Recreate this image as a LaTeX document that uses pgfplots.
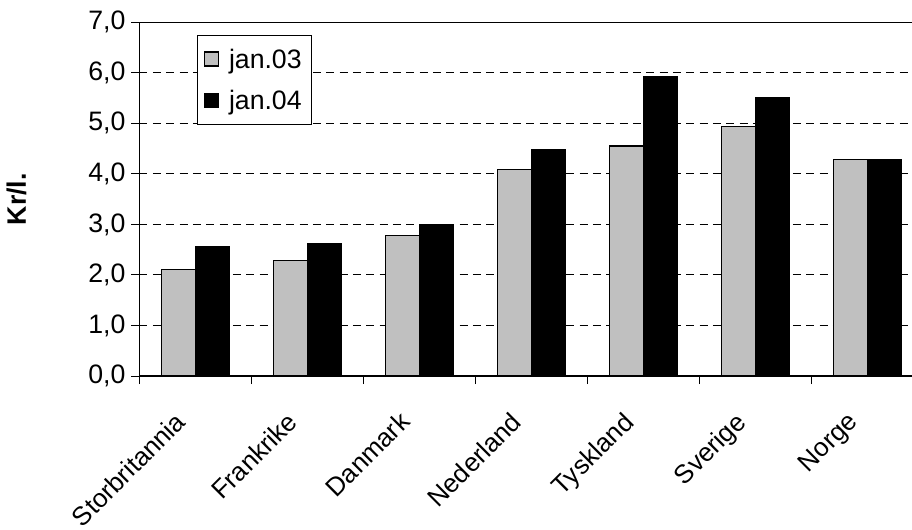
\documentclass[border=0pt]{standalone}
\usepackage{pgfplots}
\pgfplotsset{compat=1.18}
\usepackage{fontspec}
\setmainfont{Liberation Sans}
\definecolor{barGrey}{HTML}{C0C0C0}
\begin{document}
\begin{tikzpicture}
\useasboundingbox (-104.625pt,-114.75pt) rectangle (579.375pt,282pt);
\begin{axis}[
  at={(0,0)}, anchor=south west,
  scale only axis,
  width=588.15pt, height=265.3pt,
  xmin=-0.5, xmax=6.5,
  ymin=0, ymax=7,
  ytick={0,1,...,7},
  xtick={0,...,6},
  xticklabels={Storbritannia,Frankrike,Danmark,Nederland,Tyskland,Sverige,Norge},
  major x tick style={draw=none},
  minor xtick={-0.5,0.5,...,6.5},
  minor x tick style={black, line width=0.75pt},
  minor tick length=6pt,
  major tick length=6pt,
  tick align=outside,
  xtick pos=bottom, ytick pos=left,
  ymajorgrids,
  grid style={black, line width=0.75pt, dash pattern=on 6pt off 4pt},
  axis line style={black, line width=0.9pt},
  y tick style={black, line width=0.75pt},
  ybar=0pt, bar width=0.304,
  /pgf/number format/.cd, fixed, fixed zerofill, precision=1, use comma, assume math mode=true,
  /pgfplots/.cd,
  yticklabel style={font=\fontsize{20}{22}\selectfont, xshift=-1pt},
  xticklabel style={font=\fontsize{19.5}{22}\selectfont, rotate=45, anchor=north east, xshift=-22pt, yshift=1pt},
  ylabel={\textbf{Kr/l.}},
  ylabel style={font=\fontsize{20}{23}\selectfont, at={(axis description cs:-0.157,0.5)}, anchor=center},
  legend style={at={(0.073,0.964)}, anchor=north west, draw=black, line width=0.6pt, fill=white,
    font=\fontsize{20}{23}\selectfont, row sep=11pt, inner xsep=5pt, inner ysep=8pt, cells={anchor=west}},
  legend image code/.code={\draw[#1, line width=0.9pt] (0pt,-5pt) rectangle (10.5pt,5.5pt); \path (16pt,0pt);},
]
\addplot[fill=barGrey, draw=black, line width=0.9pt] coordinates {(0,2.11) (1,2.28) (2,2.78) (3,4.09) (4,4.55) (5,4.93) (6,4.29)};
\addplot[fill=black, draw=black, line width=0.9pt] coordinates {(0,2.57) (1,2.62) (2,3.00) (3,4.48) (4,5.92) (5,5.50) (6,4.29)};
\legend{jan.03, jan.04}
\end{axis}
\end{tikzpicture}
\end{document}
